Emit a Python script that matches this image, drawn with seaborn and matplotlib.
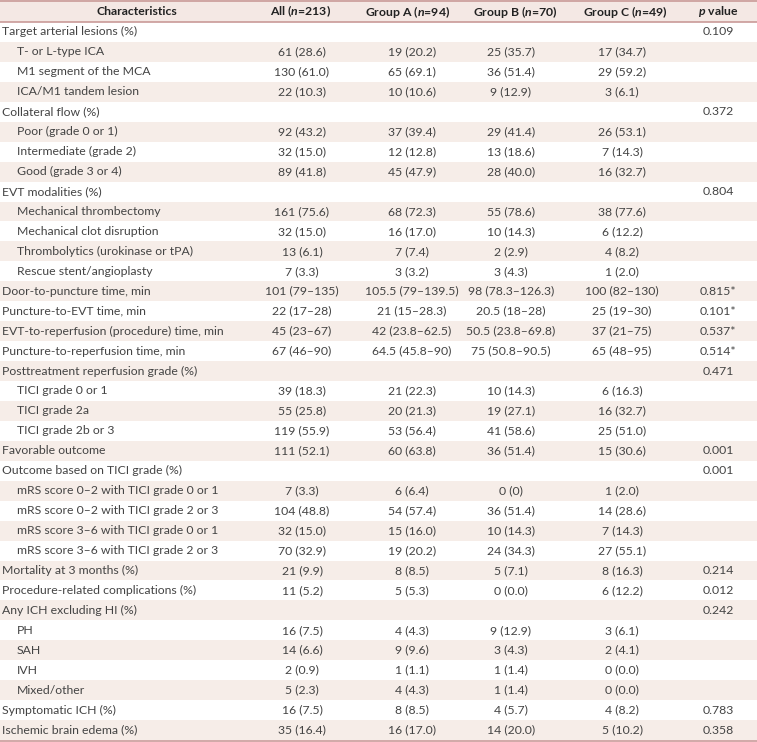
import matplotlib.pyplot as plt
import seaborn as sns

# Table content
header = ["Characteristics", "All ($n$=213)", "Group A ($n$=94)", "Group B ($n$=70)",
          "Group C ($n$=49)", "$p$ value"]

labels = [
    "Target arterial lesions (%)", "T- or L-type ICA", "M1 segment of the MCA", "ICA/M1 tandem lesion",
    "Collateral flow (%)", "Poor (grade 0 or 1)", "Intermediate (grade 2)", "Good (grade 3 or 4)",
    "EVT modalities (%)", "Mechanical thrombectomy", "Mechanical clot disruption",
    "Thrombolytics (urokinase or tPA)", "Rescue stent/angioplasty",
    "Door-to-puncture time, min", "Puncture-to-EVT time, min",
    "EVT-to-reperfusion (procedure) time, min", "Puncture-to-reperfusion time, min",
    "Posttreatment reperfusion grade (%)", "TICI grade 0 or 1", "TICI grade 2a", "TICI grade 2b or 3",
    "Favorable outcome", "Outcome based on TICI grade (%)",
    "mRS score 0\u20132 with TICI grade 0 or 1", "mRS score 0\u20132 with TICI grade 2 or 3",
    "mRS score 3\u20136 with TICI grade 0 or 1", "mRS score 3\u20136 with TICI grade 2 or 3",
    "Mortality at 3 months (%)", "Procedure-related complications (%)", "Any ICH excluding HI (%)",
    "PH", "SAH", "IVH", "Mixed/other", "Symptomatic ICH (%)", "Ischemic brain edema (%)",
]
indent = [0, 1, 1, 1, 0, 1, 1, 1, 0, 1, 1, 1, 1, 0, 0, 0, 0, 0, 1, 1, 1, 0, 0,
          1, 1, 1, 1, 0, 0, 0, 1, 1, 1, 1, 0, 0]

all_vals = ["", "61 (28.6)", "130 (61.0)", "22 (10.3)", "", "92 (43.2)", "32 (15.0)", "89 (41.8)",
            "", "161 (75.6)", "32 (15.0)", "13 (6.1)", "7 (3.3)",
            "101 (79\u2013135)", "22 (17\u201328)", "45 (23\u201367)", "67 (46\u201390)",
            "", "39 (18.3)", "55 (25.8)", "119 (55.9)", "111 (52.1)", "",
            "7 (3.3)", "104 (48.8)", "32 (15.0)", "70 (32.9)", "21 (9.9)", "11 (5.2)", "",
            "16 (7.5)", "14 (6.6)", "2 (0.9)", "5 (2.3)", "16 (7.5)", "35 (16.4)"]
grp_a = ["", "19 (20.2)", "65 (69.1)", "10 (10.6)", "", "37 (39.4)", "12 (12.8)", "45 (47.9)",
         "", "68 (72.3)", "16 (17.0)", "7 (7.4)", "3 (3.2)",
         "105.5 (79\u2013139.5)", "21 (15\u201328.3)", "42 (23.8\u201362.5)", "64.5 (45.8\u201390)",
         "", "21 (22.3)", "20 (21.3)", "53 (56.4)", "60 (63.8)", "",
         "6 (6.4)", "54 (57.4)", "15 (16.0)", "19 (20.2)", "8 (8.5)", "5 (5.3)", "",
         "4 (4.3)", "9 (9.6)", "1 (1.1)", "4 (4.3)", "8 (8.5)", "16 (17.0)"]
grp_b = ["", "25 (35.7)", "36 (51.4)", "9 (12.9)", "", "29 (41.4)", "13 (18.6)", "28 (40.0)",
         "", "55 (78.6)", "10 (14.3)", "2 (2.9)", "3 (4.3)",
         "98 (78.3\u2013126.3)", "20.5 (18\u201328)", "50.5 (23.8\u201369.8)", "75 (50.8\u201390.5)",
         "", "10 (14.3)", "19 (27.1)", "41 (58.6)", "36 (51.4)", "",
         "0 (0)", "36 (51.4)", "10 (14.3)", "24 (34.3)", "5 (7.1)", "0 (0.0)", "",
         "9 (12.9)", "3 (4.3)", "1 (1.4)", "1 (1.4)", "4 (5.7)", "14 (20.0)"]
grp_c = ["", "17 (34.7)", "29 (59.2)", "3 (6.1)", "", "26 (53.1)", "7 (14.3)", "16 (32.7)",
         "", "38 (77.6)", "6 (12.2)", "4 (8.2)", "1 (2.0)",
         "100 (82\u2013130)", "25 (19\u201330)", "37 (21\u201375)", "65 (48\u201395)",
         "", "6 (16.3)", "16 (32.7)", "25 (51.0)", "15 (30.6)", "",
         "1 (2.0)", "14 (28.6)", "7 (14.3)", "27 (55.1)", "8 (16.3)", "6 (12.2)", "",
         "3 (6.1)", "2 (4.1)", "0 (0.0)", "0 (0.0)", "4 (8.2)", "5 (10.2)"]
p_vals = ["0.109", "", "", "", "0.372", "", "", "", "0.804", "", "", "", "",
          "0.815*", "0.101*", "0.537*", "0.514*", "0.471", "", "", "", "0.001", "0.001",
          "", "", "", "", "0.214", "0.012", "0.242", "", "", "", "", "0.783", "0.358"]

sns.set_theme(style="white")
plt.rcParams["font.family"] = ["Lato", "DejaVu Sans"]
plt.rcParams["mathtext.fontset"] = "custom"
plt.rcParams["mathtext.it"] = "Lato:italic:bold"

W, H = 757, 742
fig = plt.figure(figsize=(7.57, 7.42), dpi=100)
ax = fig.add_axes([0, 0, 1, 1])
ax.set_xlim(0, W)
ax.set_ylim(H, 0)
ax.axis("off")

head_h = 22
row_h = (H - 2 - head_h) / len(labels)
shade = "#f6ede8"
line_c = "#c99a98"
txt_c = "#444444"

# header band
ax.axhspan(0, head_h, color="#f4e8e4", lw=0)
ax.axhline(0.8, color=line_c, lw=1.2)
ax.axhline(head_h, color=line_c, lw=1.2)

head_x = [137, 301, 408, 515, 625, 718]
for x, h in zip(head_x, header):
    ax.text(x, head_h / 2 + 0.5, h, ha="center", va="center", fontsize=8.8,
            fontweight="bold", color="#222222")

col_x = [302, 412, 511, 622, 718]
for i, lab in enumerate(labels):
    y0 = head_h + i * row_h
    yc = y0 + row_h / 2
    if i % 2 == 1:
        ax.axhspan(y0, y0 + row_h, color=shade, lw=0)
    ax.text(2 + 15 * indent[i], yc, lab, ha="left", va="center", fontsize=8.8,
            color=txt_c)
    for x, col in zip(col_x, [all_vals, grp_a, grp_b, grp_c, p_vals]):
        if col[i]:
            ax.text(x, yc, col[i], ha="center", va="center", fontsize=8.8, color=txt_c)

ax.axhline(H - 1.5, color=line_c, lw=1.2)

fig.savefig("out.png", dpi=100)
